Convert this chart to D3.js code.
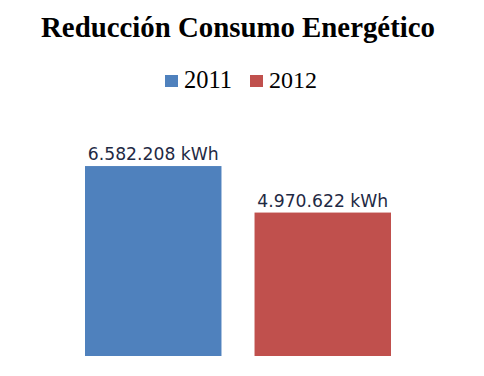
<!DOCTYPE html>
<html><head><meta charset="utf-8">
<script src="https://cdn.jsdelivr.net/npm/d3@7"></script>
<style>html,body{margin:0;padding:0;background:#fff;}</style>
</head><body>
<script>
const title = "Reducción Consumo Energético";
const series = ["2011", "2012"];
const values = [6582208, 4970622];
const labels = ["6.582.208 kWh", "4.970.622 kWh"];
const colors = ["#4F81BD", "#C0504D"];

const W = 484, H = 376;
const svg = d3.select("body").append("svg").attr("width", W).attr("height", H);

function fit(sel, target) {
  const w = sel.node().getComputedTextLength();
  const fs = parseFloat(sel.attr("font-size"));
  sel.attr("font-size", fs * target / w);
}

const t = svg.append("text").attr("x", 238).attr("y", 37)
  .attr("text-anchor", "middle")
  .attr("font-family", "Liberation Serif, serif").attr("font-weight", "bold")
  .attr("font-size", 28).attr("fill", "#000").text(title);
fit(t, 394);

const x = d3.scaleBand().domain(series).range([85, 391]).paddingInner(0.195).paddingOuter(0);
const y = d3.scaleLinear().domain([0, 7000000]).range([356, 154]);

// legend
const legX = [165, 250];
const lg = svg.append("g").selectAll("g").data(series).join("g")
  .attr("transform", (d, i) => `translate(${legX[i]},0)`);
lg.append("rect").attr("x", 0).attr("y", 75).attr("width", 13).attr("height", 12)
  .attr("fill", (d, i) => colors[i]);
lg.append("text").attr("x", 19).attr("y", 88)
  .attr("font-family", "Liberation Serif, serif").attr("font-size", 22)
  .attr("fill", "#000").text(d => d)
  .each(function () { fit(d3.select(this), 48); });

// bars
svg.append("g").selectAll("rect").data(series).join("rect")
  .attr("x", d => x(d)).attr("width", x.bandwidth())
  .attr("y", (d, i) => y(values[i])).attr("height", (d, i) => y(0) - y(values[i]))
  .attr("fill", (d, i) => colors[i]);

svg.append("g").selectAll("text").data(series).join("text")
  .attr("x", d => x(d) + x.bandwidth() / 2)
  .attr("y", (d, i) => y(values[i]) - 6)
  .attr("text-anchor", "middle")
  .attr("font-family", "DejaVu Sans, sans-serif").attr("font-size", 17)
  .attr("fill", "#1F2A44").text((d, i) => labels[i])
  .each(function () { fit(d3.select(this), 131); });
</script>
</body></html>
